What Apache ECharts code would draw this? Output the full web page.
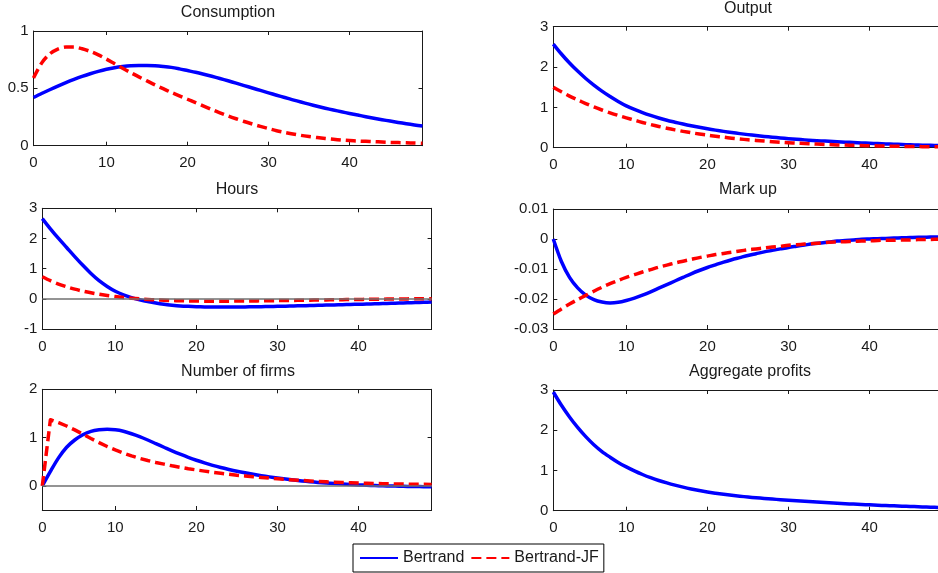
<!DOCTYPE html>
<html>
<head>
<meta charset="utf-8">
<script src="https://cdn.jsdelivr.net/npm/echarts@6/dist/echarts.min.js"></script>
<style>html,body{margin:0;padding:0;background:#fff}#c{width:938px;height:573px}</style>
</head>
<body>
<div id="c"></div>
<script>
// ---- data, one value per period ----
const periods = [1,2,3,4,5,6,7,8,9,10,11,12,13,14,15,16,17,18,19,20,21,22,23,24,25,26,27,28,29,30,31,32,33,34,35,36,37,38,39,40,41,42,43,44,45,46,47,48,49];
const xTickValues = [1,10,20,30,40];
const xTickLabels = ['0','10','20','30','40'];

const consBertrand = [0.420,0.455,0.488,0.520,0.550,0.578,0.604,0.627,0.648,0.666,0.680,0.690,0.697,0.700,0.700,0.697,0.691,0.683,0.670,0.655,0.640,0.623,0.605,0.586,0.566,0.545,0.524,0.503,0.482,0.461,0.440,0.420,0.400,0.381,0.362,0.344,0.327,0.311,0.296,0.281,0.267,0.253,0.240,0.227,0.215,0.203,0.192,0.181,0.171];
const consJF = [0.590,0.720,0.800,0.842,0.860,0.860,0.845,0.822,0.792,0.755,0.715,0.675,0.637,0.600,0.565,0.530,0.497,0.465,0.435,0.405,0.375,0.345,0.315,0.287,0.260,0.235,0.211,0.189,0.168,0.149,0.131,0.116,0.102,0.090,0.080,0.071,0.063,0.056,0.050,0.045,0.041,0.038,0.035,0.032,0.029,0.027,0.025,0.023,0.021];
const consTicks = [0,0.5,1];

const outBertrand = [2.570,2.323,2.100,1.899,1.716,1.552,1.403,1.268,1.146,1.036,0.948,0.870,0.800,0.737,0.680,0.632,0.586,0.544,0.505,0.469,0.436,0.405,0.376,0.349,0.324,0.301,0.280,0.260,0.241,0.224,0.208,0.194,0.181,0.169,0.158,0.147,0.137,0.128,0.119,0.111,0.102,0.093,0.086,0.079,0.072,0.066,0.061,0.056,0.051];
const outJF = [1.500,1.385,1.280,1.185,1.095,1.010,0.935,0.865,0.800,0.740,0.683,0.626,0.574,0.526,0.482,0.442,0.405,0.371,0.340,0.312,0.285,0.260,0.237,0.216,0.197,0.180,0.164,0.149,0.136,0.124,0.113,0.103,0.093,0.085,0.077,0.070,0.064,0.058,0.053,0.048,0.044,0.040,0.036,0.033,0.030,0.027,0.025,0.022,0.020];
const outTicks = [0,1,2,3];

const hoursBertrand = [2.66,2.32,2.00,1.70,1.40,1.11,0.84,0.60,0.41,0.25,0.13,0.04,-0.03,-0.09,-0.14,-0.18,-0.21,-0.235,-0.25,-0.26,-0.267,-0.271,-0.273,-0.273,-0.271,-0.268,-0.264,-0.259,-0.254,-0.248,-0.242,-0.236,-0.229,-0.222,-0.215,-0.208,-0.201,-0.194,-0.187,-0.18,-0.172,-0.164,-0.156,-0.148,-0.14,-0.132,-0.124,-0.116,-0.108];
const hoursJF = [0.73,0.60,0.49,0.40,0.32,0.255,0.20,0.15,0.11,0.075,0.045,0.02,0,-0.02,-0.035,-0.047,-0.057,-0.065,-0.07,-0.074,-0.077,-0.078,-0.078,-0.077,-0.075,-0.073,-0.07,-0.067,-0.064,-0.06,-0.056,-0.052,-0.048,-0.044,-0.04,-0.036,-0.032,-0.028,-0.024,-0.02,-0.017,-0.014,-0.011,-0.008,-0.005,-0.002,0,0.002,0.004];
const hoursTicks = [-1,0,1,2,3];

const markupBertrand = [0,-0.0075,-0.0128,-0.0163,-0.0187,-0.0202,-0.021,-0.0213,-0.0211,-0.0205,-0.0197,-0.0187,-0.0176,-0.0164,-0.0152,-0.014,-0.0128,-0.0116,-0.0105,-0.0095,-0.0086,-0.0077,-0.0069,-0.0062,-0.0055,-0.0049,-0.0043,-0.0038,-0.0033,-0.0028,-0.0024,-0.002,-0.0016,-0.0013,-0.001,-0.0007,-0.0005,-0.0003,-0.0001,0,0.0001,0.0002,0.0003,0.0004,0.0005,0.0006,0.0006,0.0007,0.0007];
const markupJF = [-0.025,-0.0233,-0.0217,-0.0202,-0.0188,-0.0174,-0.0161,-0.0149,-0.0138,-0.0128,-0.0119,-0.011,-0.0102,-0.0094,-0.0087,-0.008,-0.0074,-0.0068,-0.0062,-0.0057,-0.0052,-0.0048,-0.0044,-0.004,-0.0036,-0.0033,-0.003,-0.0027,-0.0024,-0.0021,-0.0019,-0.0017,-0.0015,-0.0013,-0.0011,-0.001,-0.0009,-0.0008,-0.0007,-0.0006,-0.0005,-0.0004,-0.0004,-0.0003,-0.0003,-0.0002,-0.0002,-0.0001,-0.0001];
const markupTicks = [-0.03,-0.02,-0.01,0,0.01];

const firmsBertrand = [0,0.30,0.58,0.80,0.95,1.06,1.13,1.16,1.17,1.16,1.13,1.08,1.02,0.95,0.875,0.80,0.725,0.655,0.59,0.53,0.475,0.425,0.38,0.34,0.303,0.27,0.24,0.212,0.186,0.162,0.14,0.12,0.102,0.086,0.072,0.059,0.047,0.037,0.028,0.02,0.013,0.007,0.002,-0.003,-0.007,-0.011,-0.014,-0.017,-0.02];
const firmsJF = [0,1.37,1.31,1.24,1.16,1.07,0.98,0.895,0.815,0.745,0.68,0.62,0.57,0.525,0.485,0.45,0.415,0.385,0.355,0.33,0.305,0.28,0.26,0.24,0.22,0.205,0.19,0.175,0.16,0.145,0.133,0.122,0.111,0.101,0.092,0.084,0.077,0.07,0.064,0.058,0.053,0.049,0.045,0.042,0.039,0.036,0.034,0.032,0.03];
const firmsTicks = [0,1,2];

const profitsBertrand = [2.95,2.62,2.33,2.07,1.84,1.64,1.47,1.33,1.20,1.09,0.99,0.90,0.82,0.75,0.69,0.635,0.585,0.54,0.50,0.465,0.435,0.407,0.382,0.36,0.34,0.322,0.305,0.289,0.274,0.26,0.246,0.233,0.22,0.208,0.196,0.185,0.174,0.164,0.154,0.145,0.136,0.128,0.12,0.112,0.105,0.098,0.091,0.085,0.079];
const profitsTicks = [0,1,2,3];

// ---- layout ----
const fontFamily = '"Liberation Sans", Arial, Helvetica, sans-serif';
const textColor = '#1a1a1a';
const axisColor = '#1a1a1a';
const blue = '#0000ff', red = '#ff0000';

const panels = [
  {title:'Consumption', grid:{left:33.5, top:31, width:389, height:114.7}, tx:228, ty:13.3, yMin:0, yMax:1, yTicks:consTicks, b:consBertrand, jf:consJF},
  {title:'Output', grid:{left:553.3, top:26.7, width:389.3, height:121}, tx:748, ty:9, yMin:0, yMax:3, yTicks:outTicks, b:outBertrand, jf:outJF},
  {title:'Hours', grid:{left:42.3, top:208.3, width:389.3, height:120.7}, tx:237, ty:190, yMin:-1, yMax:3, yTicks:hoursTicks, b:hoursBertrand, jf:hoursJF, zero:true},
  {title:'Mark up', grid:{left:553.3, top:209, width:389.3, height:120}, tx:748, ty:190, yMin:-0.03, yMax:0.01, yTicks:markupTicks, b:markupBertrand, jf:markupJF},
  {title:'Number of firms', grid:{left:42.3, top:389.3, width:389.3, height:120.7}, tx:238, ty:371.7, yMin:-0.5, yMax:2, yTicks:firmsTicks, b:firmsBertrand, jf:firmsJF, zero:true, jfSharp:true},
  {title:'Aggregate profits', grid:{left:553.3, top:390, width:389.3, height:120.7}, tx:750, ty:371.7, yMin:0, yMax:3, yTicks:profitsTicks, b:profitsBertrand, jf:null}
];

const grids = [], xAxes = [], yAxes = [], series = [], titles = [];
const lbl = {fontSize:15, color:textColor, fontFamily:fontFamily};

panels.forEach((p, i) => {
  grids.push(Object.assign({show:false, containLabel:false, outerBoundsMode:'none'}, p.grid));
  titles.push({text:p.title, left:p.tx, top:p.ty - 8.5, textAlign:'center', padding:0,
    textStyle:{fontSize:16, fontWeight:'normal', color:textColor, fontFamily:fontFamily}});
  const axLine = {show:true, onZero:false, lineStyle:{color:axisColor, width:1}};
  ['bottom','top'].forEach((pos, k) => {
    xAxes.push({type:'value', gridIndex:i, position:pos, min:1, max:49,
      axisLine:axLine,
      axisTick:{show:true, inside:true, length:4, customValues:xTickValues, lineStyle:{color:axisColor}},
      axisLabel:k === 0 ? Object.assign({show:true, margin:10, customValues:xTickValues,
        formatter:v => xTickLabels[xTickValues.indexOf(v)]}, lbl) : {show:false},
      splitLine:{show:false}});
  });
  ['left','right'].forEach((pos, k) => {
    yAxes.push({type:'value', gridIndex:i, position:pos, min:p.yMin, max:p.yMax,
      axisLine:axLine,
      axisTick:{show:true, inside:true, length:4, customValues:p.yTicks, lineStyle:{color:axisColor}},
      axisLabel:k === 0 ? Object.assign({show:true, margin:5, customValues:p.yTicks,
        formatter:v => String(v)}, lbl) : {show:false},
      splitLine:{show:false}});
  });
  const sb = {type:'line', name:'Bertrand', xAxisIndex:2*i, yAxisIndex:2*i,
    data:periods.map((x, k) => [x, p.b[k]]), symbol:'none', showSymbol:false, smooth:0.3,
    lineStyle:{color:blue, width:3.5, join:'round'}, itemStyle:{color:blue}, z:3, silent:true};
  if (p.zero) {
    sb.markLine = {silent:true, symbol:['none','none'], label:{show:false}, animation:false,
      lineStyle:{color:'#707070', width:1.5, type:'solid'}, emphasis:{disabled:true},
      data:[{yAxis:0}]};
  }
  series.push(sb);
  if (p.jf) {
    series.push({type:'line', name:'Bertrand-JF', xAxisIndex:2*i, yAxisIndex:2*i,
      data:periods.map((x, k) => [x, p.jf[k]]), symbol:'none', showSymbol:false,
      smooth:p.jfSharp ? false : 0.3,
      lineStyle:{color:red, width:3.5, type:[10,5], join:'round'}, itemStyle:{color:red}, z:4, silent:true});
  }
});

const chart = echarts.init(document.getElementById('c'), null, {renderer:'canvas'});
chart.setOption({
  animation:false,
  backgroundColor:'#ffffff',
  title:titles,
  grid:grids,
  xAxis:xAxes,
  yAxis:yAxes,
  legend:{data:['Bertrand','Bertrand-JF'], left:353, top:544, orient:'horizontal',
    itemWidth:38, itemHeight:14, itemGap:6, padding:[6,5,6,6],
    borderColor:'#000', borderWidth:1, backgroundColor:'#fff', selectedMode:false,
    itemStyle:{opacity:0},
    textStyle:{fontSize:16, color:textColor, fontFamily:fontFamily}},
  series:series
});
</script>
</body>
</html>
